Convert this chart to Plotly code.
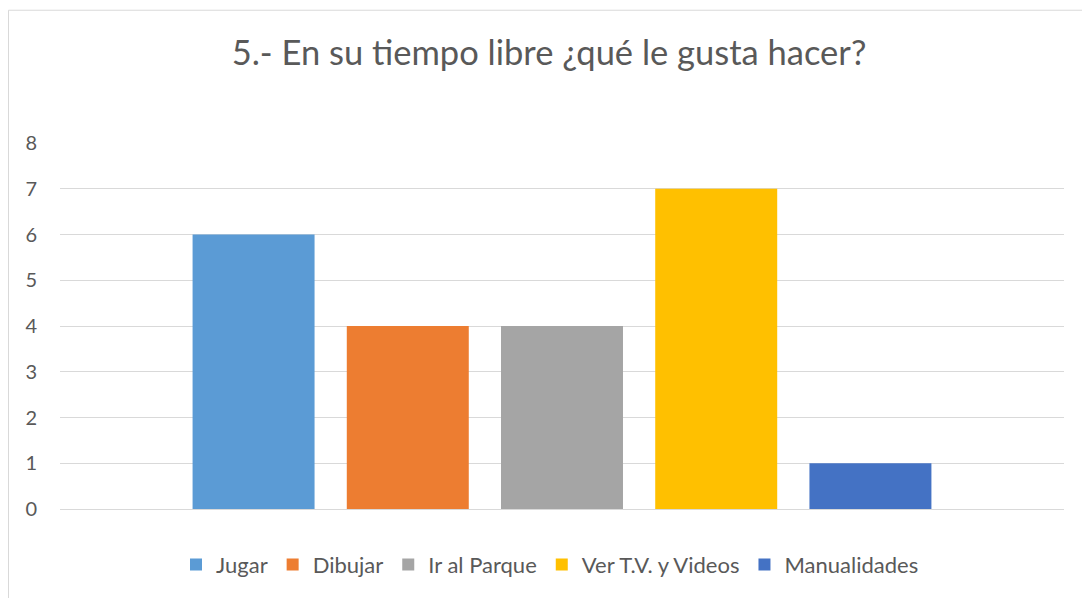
import plotly.graph_objects as go

categories = ["Jugar", "Dibujar", "Ir al Parque", "Ver T.V. y Videos", "Manualidades"]
values = [6, 4, 4, 7, 1]
colors = ["#5B9BD5", "#ED7D31", "#A5A5A5", "#FFC000", "#4472C4"]
y_ticks = [0, 1, 2, 3, 4, 5, 6, 7, 8]
title_text = "5.- En su tiempo libre ¿qué le gusta hacer?"

FONT = "Lato"
W, H = 1082, 598
L, R, T, B = 60, 18, 143, 87
pw, ph = W - L - R, H - T - B

fig = go.Figure()
for name, v, c in zip(categories, values, colors):
    fig.add_trace(go.Bar(x=[""], y=[v], name=name, marker=dict(color=c, line=dict(width=0))))

fig.update_layout(
    width=W, height=H,
    margin=dict(l=L, r=R, t=T, b=B, pad=0),
    paper_bgcolor="white", plot_bgcolor="white",
    barmode="group", bargap=0.232, bargroupgap=0.209,
    font=dict(family=FONT, color="#595959"),
    title=dict(text=title_text, x=549 / W, xanchor="center", xref="container",
               y=1 - 53 / H, yref="container", yanchor="middle",
               font=dict(size=34.5, color="#595959", family=FONT)),
    showlegend=True,
    legend=dict(orientation="h", x=(550 - L) / pw, xanchor="center",
                y=-(567 - (T + ph)) / ph, yanchor="middle",
                font=dict(size=22, color="#595959", family=FONT),
                itemwidth=30,
                bgcolor="rgba(0,0,0,0)", traceorder="normal"),
    xaxis=dict(showticklabels=False, showgrid=False, showline=False, zeroline=False, ticks=""),
    yaxis=dict(range=[0, 8], tickvals=y_ticks, showgrid=True, gridcolor="#D9D9D9", gridwidth=1,
               zeroline=True, zerolinecolor="#D9D9D9", zerolinewidth=1, showline=False,
               ticks="", ticklabelstandoff=22, tickfont=dict(size=20, color="#595959", family=FONT)),
)

# chart-area border (Excel style), extends past the image edges on right/bottom
fig.add_shape(type="rect", xref="paper", yref="paper",
              x0=(8.5 - L) / pw, x1=(W + 20 - L) / pw,
              y0=-(H + 20 - (T + ph)) / ph, y1=1 + (T - 9.5) / ph,
              line=dict(color="#D9D9D9", width=1), fillcolor="rgba(0,0,0,0)", layer="below")

fig.write_html("out.html", config={"displayModeBar": False},
               post_script="document.body.style.margin='0';document.body.style.overflow='hidden';")
